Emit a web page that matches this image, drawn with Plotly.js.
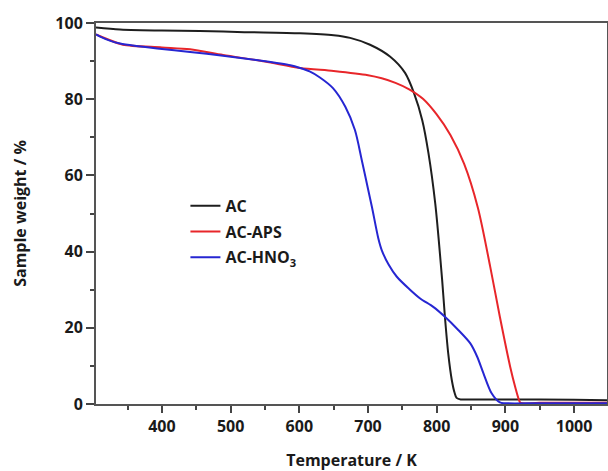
<!DOCTYPE html>
<html>
<head>
<meta charset="utf-8">
<script src="https://cdn.plot.ly/plotly-3.0.1.min.js"></script>
<style>html,body{margin:0;padding:0;background:#fff;}#chart{width:608px;height:471px;}</style>
</head>
<body>
<div id="chart"></div>
<script>
// AC
const acX = [304, 339, 400, 455, 520, 601, 650, 674, 703, 732, 754, 767, 779, 788, 798, 808, 812, 817, 822, 826, 829, 835, 850, 900, 1000, 1048];
const acY = [98.8, 98.3, 98.0, 97.9, 97.6, 97.3, 96.8, 96.1, 94.3, 91.2, 86.9, 81.6, 74.5, 65.9, 52.5, 32.5, 22.9, 13.0, 6.3, 3.0, 1.6, 1.2, 1.2, 1.2, 1.1, 1.0];
// AC-APS
const apsX = [304, 320, 343, 400, 441, 489, 550, 601, 650, 700, 720, 740, 760, 780, 800, 820, 840, 860, 878, 892, 907, 915, 919, 922, 950, 1048];
const apsY = [97.0, 95.8, 94.3, 93.6, 93.1, 91.6, 89.9, 88.2, 87.4, 86.3, 85.5, 84.3, 82.6, 80.1, 76.0, 70.6, 63.0, 51.5, 36.0, 22.9, 9.8, 4.0, 1.5, 0.3, 0.3, 0.3];
// AC-HNO3
const hnoX = [304, 310, 325, 339, 360, 393, 441, 489, 540, 587, 601, 615, 630, 649, 667, 681, 691, 700, 706, 715, 720, 730, 742, 760, 776, 795, 812, 830, 849, 859, 868, 880, 892, 900, 950, 1048];
const hnoY = [97.0, 96.4, 95.3, 94.6, 94.0, 93.3, 92.4, 91.4, 90.2, 88.9, 88.2, 87.3, 85.7, 82.9, 78.0, 71.9, 64.0, 56.5, 51.5, 43.5, 40.4, 36.6, 33.4, 30.2, 27.7, 25.5, 22.9, 19.7, 15.9, 12.4, 8.1, 2.8, 0.4, 0.2, 0.2, 0.2];

const names = ['AC', 'AC-APS', 'AC-HNO<sub>3</sub>'];
const colors = ['#1e1e1e', '#e8262a', '#2626d2'];
const xs = [acX, apsX, hnoX];
const ys = [acY, apsY, hnoY];

const traces = names.map((n, i) => ({
  x: xs[i], y: ys[i], name: n, type: 'scatter', mode: 'lines', legendgroup: 'g' + i,
  line: {color: colors[i], width: 2, shape: 'spline', smoothing: 0.8}
}));

const fam = '"Open Sans", "Liberation Sans", sans-serif';
const layout = {
  width: 608, height: 471,
  margin: {l: 96, r: 1, t: 23, b: 67},
  paper_bgcolor: '#fff', plot_bgcolor: '#fff',
  showlegend: true,
  legend: {x: 0.175, y: 0.565, xanchor: 'left', yanchor: 'top', bgcolor: 'rgba(0,0,0,0)',
    traceorder: 'grouped', tracegroupgap: 2,
    font: {family: fam, size: 16, color: '#1a1a1a', weight: 'bold'}},
  xaxis: {
    range: [304, 1048], tickvals: [400, 500, 600, 700, 800, 900, 1000],
    ticks: 'outside', ticklen: 7, tickwidth: 2, tickcolor: '#444',
    minor: {dtick: 50, tick0: 0, ticks: 'outside', ticklen: 4, tickwidth: 2, tickcolor: '#444'},
    showline: true, mirror: true, linecolor: '#555', linewidth: 2,
    showgrid: false, zeroline: false,
    tickfont: {family: fam, size: 16, color: '#1a1a1a', weight: 'bold'},
    title: {text: 'Temperature / K', font: {family: fam, size: 16, color: '#1a1a1a', weight: 'bold'}, standoff: 19}
  },
  yaxis: {
    range: [0, 100], tickvals: [0, 20, 40, 60, 80, 100],
    ticks: 'outside', ticklen: 8, tickwidth: 2, tickcolor: '#444',
    minor: {dtick: 10, tick0: 0, ticks: 'outside', ticklen: 4, tickwidth: 2, tickcolor: '#444'},
    showline: true, mirror: true, linecolor: '#555', linewidth: 2,
    showgrid: false, zeroline: false,
    tickfont: {family: fam, size: 16, color: '#1a1a1a', weight: 'bold'},
    title: {text: 'Sample weight / %', font: {family: fam, size: 16, color: '#1a1a1a', weight: 'bold'}, standoff: 25}
  }
};
Plotly.newPlot('chart', traces, layout, {displayModeBar: false, staticPlot: true});
</script>
</body>
</html>
